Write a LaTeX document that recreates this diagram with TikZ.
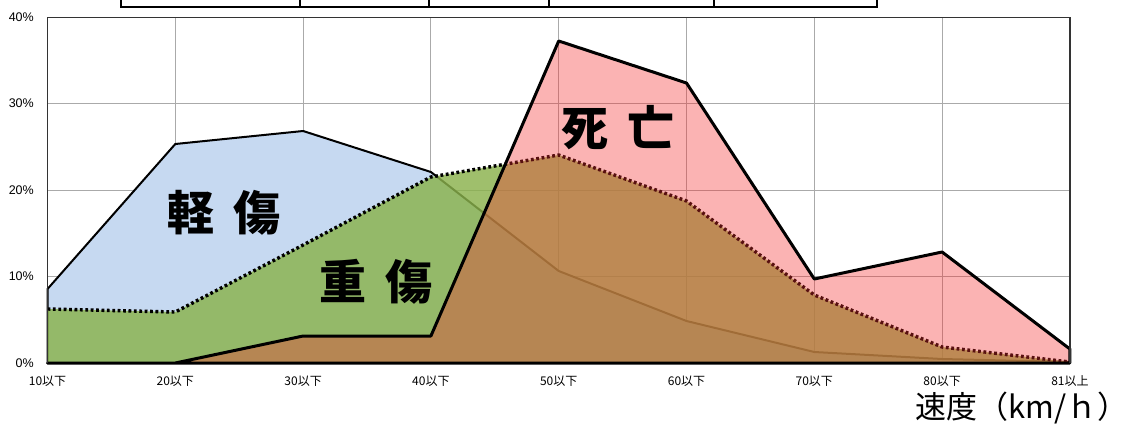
\documentclass[tikz,border=0pt]{standalone}
\usepackage{fontspec}
\setmainfont{Liberation Sans}
\newfontfamily\cjk{Noto Sans CJK JP}
\definecolor{lblue}{RGB}{198,217,241}
\definecolor{sgreen}{RGB}{138,178,76}
\definecolor{dred}{RGB}{245,45,45}
\definecolor{gridc}{RGB}{170,170,170}
\tikzset{
  gridline/.style={draw=gridc, line width=1pt},
  frameline/.style={draw=black!80, line width=1.5pt},
  seriesline/.style={draw=black, line width=2pt, line join=round},
  deathline/.style={draw=black, line width=3pt, line join=round},
  dotline/.style={draw=black, line width=3.4pt, dash pattern=on 2.8pt off 2.6pt},
  pctlabel/.style={anchor=east, font=\fontsize{12.5}{13}\selectfont, inner sep=0pt},
  catlabel/.style={anchor=center, font=\cjk\fontsize{12}{13}\selectfont, inner sep=0pt},
  biglabel/.style={anchor=center, font=\cjk\bfseries\fontsize{47}{49}\selectfont, inner sep=0pt},
  tablebox/.style={draw=black, line width=2.2pt}
}
\begin{document}
\begin{tikzpicture}[x=1pt,y=-1pt]
\useasboundingbox (0,0) rectangle (1132,426);
\fill[white] (0,0) rectangle (1132,426);
% top table (partially visible)
\draw[tablebox] (121,0) -- (121,7) -- (877,7) -- (877,0);
\foreach \x in {300,429,549,714} \draw[tablebox] (\x,0) -- (\x,7);
% grid
\foreach \y in {103.5,190,276.5} \draw[gridline] (47.5,\y) -- (1069.9,\y);
\foreach \x in {175.3,303.1,430.9,558.7,686.5,814.3,942.1} \draw[gridline] (\x,17.5) -- (\x,363);
% light injury
\fill[lblue] (47.5,363) -- (47.5,289) -- (175.3,144) -- (303.1,131) -- (430.9,172) -- (558.7,271) -- (686.5,321) -- (814.3,352) -- (942.1,359) -- (1069.9,362) -- (1069.9,363) -- cycle;
\draw[seriesline] (47.5,363) -- (47.5,289) -- (175.3,144) -- (303.1,131) -- (430.9,172) -- (558.7,271) -- (686.5,321) -- (814.3,352) -- (942.1,359) -- (1069.9,362);
% serious injury
\fill[sgreen, fill opacity=0.82] (47.5,363) -- (47.5,309) -- (175.3,312) -- (303.1,245) -- (430.9,177) -- (558.7,155) -- (686.5,201) -- (814.3,295) -- (942.1,347) -- (1069.9,362) -- (1069.9,363) -- cycle;
\draw[dotline] (47.5,309) -- (175.3,312) -- (303.1,245) -- (430.9,177) -- (558.7,155) -- (686.5,201) -- (814.3,295) -- (942.1,347) -- (1069.9,362);
% death
\fill[dred, fill opacity=0.36] (47.5,363) -- (175.3,363) -- (303.1,336) -- (430.9,336) -- (558.7,41) -- (686.5,83) -- (814.3,279) -- (942.1,252) -- (1069.9,349) -- (1069.9,363) -- cycle;
\draw[deathline] (47.5,363) -- (175.3,363) -- (303.1,336) -- (430.9,336) -- (558.7,41) -- (686.5,83) -- (814.3,279) -- (942.1,252) -- (1069.9,349) -- (1069.9,363) -- cycle;
% frame
\draw[frameline] (47.5,363) -- (47.5,17.5) -- (1069.9,17.5) -- (1069.9,363);
% percent labels
\node[pctlabel] (p40) at (34,17) {40\%};
\node[pctlabel] (p30) at (34,103.5) {30\%};
\node[pctlabel] (p20) at (34,190) {20\%};
\node[pctlabel] (p10) at (34,276.5) {10\%};
\node[pctlabel] (p0) at (34,363) {0\%};
% category labels
\node[catlabel] (c10) at (47.5,381.5) {10以下};
\node[catlabel] (c20) at (175.3,381.5) {20以下};
\node[catlabel] (c30) at (303.1,381.5) {30以下};
\node[catlabel] (c40) at (430.9,381.5) {40以下};
\node[catlabel] (c50) at (558.7,381.5) {50以下};
\node[catlabel] (c60) at (686.5,381.5) {60以下};
\node[catlabel] (c70) at (814.3,381.5) {70以下};
\node[catlabel] (c80) at (942.1,381.5) {80以下};
\node[catlabel] (c81) at (1069.9,381.5) {81以上};
% series labels
\node[biglabel] (light) at (224,213) {軽\hspace{20pt}傷};
\node[biglabel] (serious) at (376,282) {重\hspace{20pt}傷};
\node[biglabel] (death) at (618,128) {死\hspace{20pt}亡};
% axis title
\node[anchor=east, font=\cjk\fontsize{31}{32}\selectfont, inner sep=0pt] (unit) at (1129,408) {速度（km/ｈ）};
\end{tikzpicture}
\end{document}
